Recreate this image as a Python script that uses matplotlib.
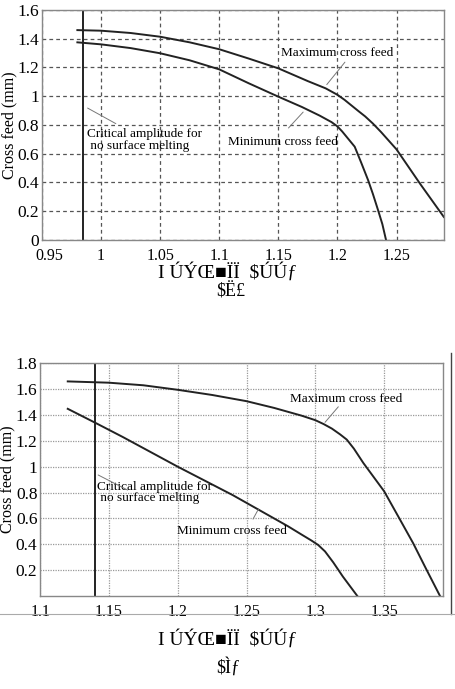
import matplotlib
matplotlib.use("Agg")
import matplotlib.pyplot as plt
from matplotlib.lines import Line2D
from matplotlib.transforms import ScaledTranslation

# --- (a) values ---
a_max_x = [0.98, 1.0, 1.025, 1.05, 1.075, 1.1, 1.125, 1.15, 1.175, 1.19, 1.2, 1.206, 1.212, 1.218, 1.2234, 1.23, 1.237, 1.25, 1.26, 1.27, 1.28, 1.29]
a_max_y = [1.46, 1.456, 1.44, 1.414, 1.375, 1.327, 1.262, 1.194, 1.105, 1.055, 1.01, 0.975, 0.935, 0.895, 0.86, 0.81, 0.75, 0.63, 0.51, 0.39, 0.275, 0.16]
a_min_x = [0.98, 1.0, 1.025, 1.05, 1.075, 1.1, 1.125, 1.15, 1.17, 1.185, 1.195, 1.2, 1.204, 1.209, 1.2146, 1.22, 1.2259, 1.23, 1.2343, 1.238, 1.2411]
a_min_y = [1.375, 1.361, 1.335, 1.299, 1.25, 1.187, 1.09, 0.997, 0.925, 0.865, 0.82, 0.79, 0.755, 0.705, 0.649, 0.54, 0.417, 0.32, 0.209, 0.11, 0.0]
a_critical = 0.985
a_xticks = [0.95, 1.0, 1.05, 1.1, 1.15, 1.2, 1.25]
a_xticklabels = ["0.95", "1", "1.05", "1.1", "1.15", "1.2", "1.25"]
a_yticks = [0, 0.2, 0.4, 0.6, 0.8, 1.0, 1.2, 1.4, 1.6]
a_yticklabels = ["0", "0.2", "0.4", "0.6", "0.8", "1", "1.2", "1.4", "1.6"]

# --- (b) values ---
b_max_x = [1.12, 1.15, 1.175, 1.2, 1.225, 1.25, 1.27, 1.29, 1.3, 1.306, 1.312, 1.318, 1.3228, 1.328, 1.3348, 1.35, 1.36, 1.371, 1.38, 1.3906]
b_max_y = [1.66, 1.65, 1.63, 1.595, 1.555, 1.507, 1.455, 1.395, 1.36, 1.33, 1.295, 1.25, 1.21, 1.14, 1.03, 0.81, 0.62, 0.41, 0.22, 0.0]
b_min_x = [1.12, 1.14, 1.16, 1.18, 1.2, 1.22, 1.24, 1.25, 1.26, 1.28, 1.29, 1.297, 1.302, 1.307, 1.313, 1.32, 1.3305]
b_min_y = [1.448, 1.34, 1.23, 1.115, 1.0, 0.89, 0.78, 0.72, 0.66, 0.54, 0.475, 0.43, 0.395, 0.345, 0.26, 0.15, 0.0]
b_critical = 1.14
b_xticks = [1.1, 1.15, 1.2, 1.25, 1.3, 1.35]
b_xticklabels = ["1.1", "1.15", "1.2", "1.25", "1.3", "1.35"]
b_yticks = [0.2, 0.4, 0.6, 0.8, 1.0, 1.2, 1.4, 1.6, 1.8]
b_yticklabels = ["0.2", "0.4", "0.6", "0.8", "1", "1.2", "1.4", "1.6", "1.8"]

SERIF = ["Liberation Serif", "DejaVu Serif", "DejaVu Sans"]
plt.rcParams["font.family"] = SERIF
LEAD = "#777777"

fig = plt.figure(figsize=(4.55, 6.89), dpi=100)
ax1 = fig.add_axes([0.0921, 0.6517, 0.8844, 0.3338])
ax2 = fig.add_axes([0.0884, 0.1350, 0.8859, 0.3377])


def style(ax, xlim, ylim, xt, xtl, yt, ytl, grid_ls, grid_col):
    ax.set_xlim(*xlim)
    ax.set_ylim(*ylim)
    ax.set_xticks(xt)
    ax.set_xticklabels(xtl, fontsize=11.5)
    ax.set_yticks(yt)
    ax.set_yticklabels(ytl, fontsize=12.5)
    ax.tick_params(axis="x", direction="in", length=0, pad=6)
    ax.tick_params(axis="y", direction="in", length=0, pad=2)
    ax.grid(True, linestyle=grid_ls, color=grid_col, linewidth=0.9)
    for s in ax.spines.values():
        s.set_color("#888888")
        s.set_linewidth(1.0)
    ax.set_ylabel("Cross feed (mm)", fontsize=11.5, labelpad=0)


# (a)
style(ax1, (0.95, 1.2904), (0, 1.6), a_xticks, a_xticklabels, a_yticks, a_yticklabels,
      (0, (3, 2.5)), "#555555")
# the first x label sits a bit right of its tick in the source
first = ax1.get_xticklabels()[0]
first.set_transform(first.get_transform() + ScaledTranslation(7.5 / 100, 0, fig.dpi_scale_trans))
ax1.plot(a_max_x, a_max_y, color="#222222", lw=1.4)
ax1.plot(a_min_x, a_min_y, color="#222222", lw=1.4)
ax1.axvline(a_critical, color="#222222", lw=1.4)
ax1.text(1.2, 1.30, "Maximum cross feed", fontsize=9.5, ha="center", va="center")
ax1.annotate("", xy=(1.1895, 1.066), xytext=(1.2078, 1.252),
             arrowprops=dict(arrowstyle="-", color=LEAD, lw=0.7))
ax1.text(1.1535, 0.684, "Minimum cross feed", fontsize=9.5, ha="center", va="center")
ax1.annotate("", xy=(1.1726, 0.904), xytext=(1.157, 0.765),
             arrowprops=dict(arrowstyle="-", color=LEAD, lw=0.7))
ax1.text(0.9878, 0.696, "Critical amplitude for\n no surface melting", fontsize=9.5,
         ha="left", va="center", linespacing=0.95)
ax1.annotate("", xy=(0.9866, 0.927), xytext=(1.0146, 0.80),
             arrowprops=dict(arrowstyle="-", color=LEAD, lw=0.7))

# (b)
style(ax2, (1.1, 1.393), (0, 1.8), b_xticks, b_xticklabels, b_yticks, b_yticklabels,
      (0, (1, 1)), "#999999")
ax2.plot(b_max_x, b_max_y, color="#222222", lw=1.4)
ax2.plot(b_min_x, b_min_y, color="#222222", lw=1.4)
ax2.axvline(b_critical, color="#222222", lw=1.4)
ax2.text(1.2815, 1.526, "Maximum cross feed", fontsize=9.5, ha="left", va="center")
ax2.annotate("", xy=(1.3057, 1.327), xytext=(1.318, 1.48),
             arrowprops=dict(arrowstyle="-", color=LEAD, lw=0.7))
ax2.text(1.1992, 0.499, "Minimum cross feed", fontsize=9.5, ha="left", va="center")
ax2.annotate("", xy=(1.2597, 0.693), xytext=(1.2537, 0.576),
             arrowprops=dict(arrowstyle="-", color=LEAD, lw=0.7))
ax2.text(1.1414, 0.80, "Critical amplitude for\n no surface melting", fontsize=9.5,
         ha="left", va="center", linespacing=0.95)
ax2.annotate("", xy=(1.1403, 0.946), xytext=(1.1653, 0.81),
             arrowprops=dict(arrowstyle="-", color=LEAD, lw=0.7))

# garbled captions as they appear in the source
fig.text(0.5, 0.604, "I ÚÝŒ■ÏÏ  $ÚÚƒ", fontsize=14, ha="center", va="center")
fig.text(0.508, 0.577, "$Ë£", fontsize=13, ha="center", va="center")
fig.text(0.5, 0.0718, "I ÚÝŒ■ÏÏ  $ÚÚƒ", fontsize=14, ha="center", va="center")
fig.text(0.502, 0.032, "$Ìƒ", fontsize=13, ha="center", va="center")

# scan border lines
fig.add_artist(Line2D([450.5 / 455, 450.5 / 455], [1 - 353 / 689, 1 - 614 / 689],
                      transform=fig.transFigure, color="#444444", lw=1.0))
fig.add_artist(Line2D([0, 1], [1 - 614 / 689, 1 - 614 / 689],
                      transform=fig.transFigure, color="#aaaaaa", lw=0.8))

fig.savefig("out.png", dpi=100, facecolor="white")
